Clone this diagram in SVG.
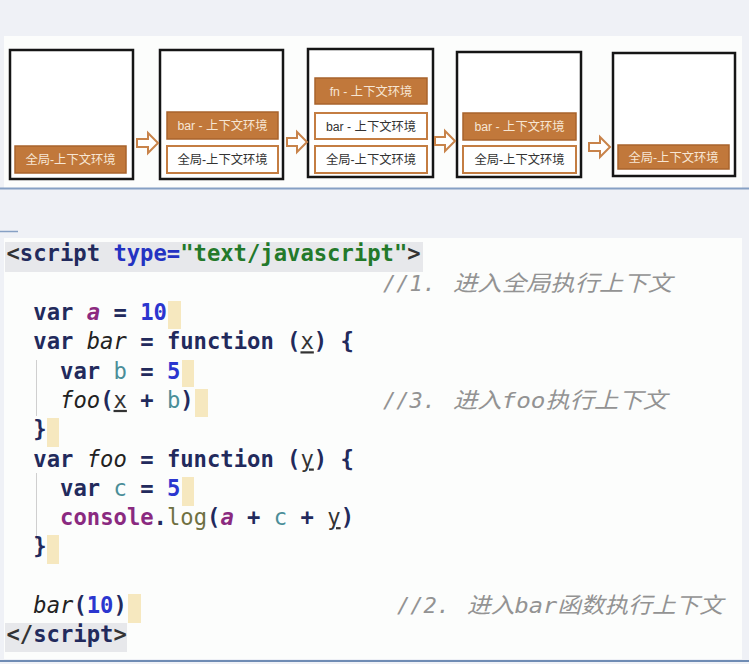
<svg xmlns="http://www.w3.org/2000/svg" width="749" height="664" viewBox="0 0 749 664">
<defs>
<style>
.frame{fill:#fff;stroke:#151515;stroke-width:2.5}
.ctxA{fill:#c1783b;stroke:#a8632c;stroke-width:1.5}
.ctxW{fill:#fff;stroke:#c47d42;stroke-width:2}
.tA{font-family:"Liberation Sans","Noto Sans CJK SC",sans-serif;font-size:12.3px;fill:#f7e6d4;text-anchor:middle}
.tW{font-family:"Liberation Sans","Noto Sans CJK SC",sans-serif;font-size:12.3px;fill:#333;text-anchor:middle}
.arr{fill:#fff;stroke:#c8834a;stroke-width:2;stroke-linejoin:miter}
.code{font-family:"DejaVu Sans Mono","Liberation Mono",monospace;font-size:22.2px;font-weight:bold;fill:#222a5c}
.cm{font-family:"DejaVu Sans Mono","Noto Sans CJK SC",monospace;font-size:22px;font-style:italic;fill:#939393}
.cur{fill:#f6e8bf}
.kw{fill:#222a5c}
.num{fill:#2b36cf}
.va{fill:#8b2a7f;font-style:italic}
.it{fill:#222;font-style:italic;font-weight:normal}
.prm{fill:#333;font-weight:normal;text-decoration:underline}
.loc{fill:#4a8e98;font-weight:normal}
.con{fill:#8a2a80}
.log{fill:#6f7042;font-weight:normal}
.dk{fill:#333}
</style>
</defs>
<rect x="0" y="0" width="749" height="664" fill="#eff1f6"/>
<rect x="4" y="36" width="738" height="152" fill="#fcfdfc"/>
<line x1="0" y1="188.5" x2="749" y2="188.5" stroke="#86a0c4" stroke-width="2"/>
<line x1="0" y1="231.5" x2="18" y2="231.5" stroke="#86a0c4" stroke-width="1.5"/>
<rect x="4" y="238" width="738" height="421" fill="#fcfdfc"/>
<line x1="0" y1="661" x2="749" y2="661" stroke="#6f8cb4" stroke-width="2"/>

<g id="stack1">
<rect class="frame" x="10" y="50" width="123" height="129"/>
<rect class="ctxA" x="15" y="146" width="111" height="27"/>
<text class="tA" x="70.5" y="164">全局-上下文环境</text>
</g>
<g id="stack2">
<rect class="frame" x="160" y="50" width="123" height="129"/>
<rect class="ctxA" x="167" y="112" width="111" height="27"/>
<text class="tA" x="222.5" y="130">bar - 上下文环境</text>
<rect class="ctxW" x="167" y="146" width="111" height="27"/>
<text class="tW" x="222.5" y="164">全局-上下文环境</text>
</g>
<g id="stack3">
<rect class="frame" x="308" y="49" width="125" height="128"/>
<rect class="ctxA" x="315" y="78" width="112" height="26"/>
<text class="tA" x="371" y="95.5">fn - 上下文环境</text>
<rect class="ctxW" x="315" y="113" width="112" height="26"/>
<text class="tW" x="371" y="130.5">bar - 上下文环境</text>
<rect class="ctxW" x="315" y="146" width="112" height="27"/>
<text class="tW" x="371" y="164">全局-上下文环境</text>
</g>
<g id="stack4">
<rect class="frame" x="457" y="52" width="124" height="125"/>
<rect class="ctxA" x="463" y="113" width="113" height="27"/>
<text class="tA" x="519.5" y="131">bar - 上下文环境</text>
<rect class="ctxW" x="463" y="146" width="113" height="27"/>
<text class="tW" x="519.5" y="164">全局-上下文环境</text>
</g>
<g id="stack5">
<rect class="frame" x="613" y="53" width="122" height="123"/>
<rect class="ctxA" x="618" y="145" width="111" height="24"/>
<text class="tA" x="673.5" y="161.5">全局-上下文环境</text>
</g>

<g id="connectors">
<path class="arr" d="M137,139 H148 V133 L158,143 L148,153 V147 H137 Z"/>
<path class="arr" d="M287,138 H297 V132 L307,142 L297,152 V146 H287 Z"/>
<path class="arr" d="M435,137 H445 V131 L455,141 L445,151 V145 H435 Z"/>
<path class="arr" d="M589,143 H600 V137 L610,147 L600,157 V151 H589 Z"/>
</g>

<g id="code">
<rect x="5" y="242" width="418" height="30" fill="#e7e8eb"/>
<rect x="5" y="623" width="122" height="29" fill="#e7e8eb"/>
<line x1="36.5" y1="360" x2="36.5" y2="416" stroke="#cfcfcf" stroke-width="1"/>
<line x1="36.5" y1="473" x2="36.5" y2="540" stroke="#cfcfcf" stroke-width="1"/>
<rect class="cur" x="168" y="301" width="13" height="28"/>
<rect class="cur" x="182" y="360" width="12" height="27"/>
<rect class="cur" x="195" y="389" width="13" height="28"/>
<rect class="cur" x="47" y="418" width="12" height="29"/>
<rect class="cur" x="182" y="477" width="12" height="29"/>
<rect class="cur" x="47" y="535" width="12" height="29"/>
<rect class="cur" x="128" y="594" width="13" height="29"/>

<text class="code" x="6.5" y="261.4" xml:space="preserve"><tspan class="dk">&lt;</tspan>script <tspan fill="#2433c2">type=</tspan><tspan fill="#23792a">"text/javascript"</tspan><tspan class="dk">&gt;</tspan></text>
<text class="code" x="33.3" y="320" xml:space="preserve">var <tspan class="va">a</tspan> = <tspan class="num">10</tspan></text>
<text class="code" x="33.3" y="349.3" xml:space="preserve">var <tspan class="it">bar</tspan> = function (<tspan class="prm">x</tspan>) {</text>
<text class="code" x="60.1" y="378.6" xml:space="preserve">var <tspan class="loc">b</tspan> = <tspan class="num">5</tspan></text>
<text class="code" x="60.1" y="407.9" xml:space="preserve"><tspan class="it">foo</tspan>(<tspan class="prm">x</tspan> + <tspan class="loc">b</tspan>)</text>
<text class="code" x="33.3" y="437.2">}</text>
<text class="code" x="33.3" y="466.5" xml:space="preserve">var <tspan class="it">foo</tspan> = function (<tspan class="prm">y</tspan>) {</text>
<text class="code" x="60.1" y="495.8" xml:space="preserve">var <tspan class="loc">c</tspan> = <tspan class="num">5</tspan></text>
<text class="code" x="60.1" y="525.1" xml:space="preserve"><tspan class="con">console</tspan>.<tspan class="log">log</tspan>(<tspan class="va">a</tspan> + <tspan class="loc">c</tspan> + <tspan class="prm">y</tspan>)</text>
<text class="code" x="33.3" y="554.4">}</text>
<text class="code" x="33.3" y="613" xml:space="preserve"><tspan class="it">bar</tspan>(<tspan class="num">10</tspan>)</text>
<text class="code" x="6.5" y="642.3" xml:space="preserve"><tspan class="dk">&lt;/</tspan>script<tspan class="dk">&gt;</tspan></text>

<text class="cm" x="383" y="290.7">//1.<tspan x="453" textLength="219" lengthAdjust="spacingAndGlyphs">进入全局执行上下文</tspan></text>
<text class="cm" x="383" y="407.9">//3.<tspan x="453" textLength="214" lengthAdjust="spacingAndGlyphs">进入foo执行上下文</tspan></text>
<text class="cm" x="397" y="613">//2.<tspan x="467" textLength="256" lengthAdjust="spacingAndGlyphs">进入bar函数执行上下文</tspan></text>
</g>
</svg>
